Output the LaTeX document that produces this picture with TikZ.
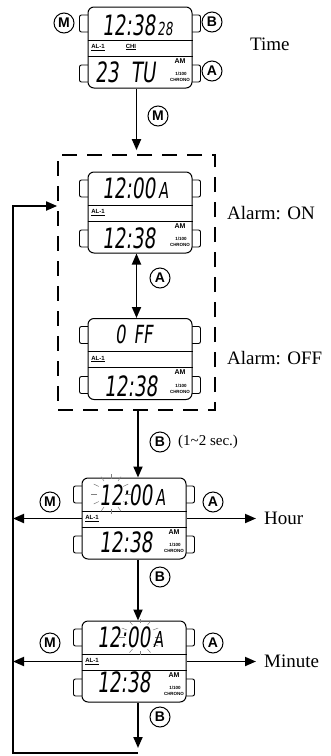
\documentclass[tikz,border=0pt]{standalone}
\usepackage{fontspec}
\setmainfont{Liberation Serif}
\newfontfamily\keyfont{Liberation Sans}
\newfontfamily\lcd{DejaVu Sans}[FakeSlant=0.12,FakeStretch=0.66]
\usetikzlibrary{
  arrows.meta,
  calc,
  positioning,
  backgrounds
}

% frame of one watch: buttons, dividers and the fixed marks
\newcommand{\watchframe}[1]{%
  \begin{scope}[on background layer]
    \draw[button] ($(#1.west)+(-8,-32.5)$) rectangle ($(#1.west)+(4,-15.5)$);
    \draw[button] ($(#1.west)+(-8,17.5)$) rectangle ($(#1.west)+(4,34.5)$);
    \draw[button] ($(#1.east)+(-4,-32.5)$) rectangle ($(#1.east)+(8,-15.5)$);
    \draw[button] ($(#1.east)+(-4,17.5)$) rectangle ($(#1.east)+(8,34.5)$);
  \end{scope}
  \draw[line width=0.8pt] ($(#1.west)+(0,-7.5)$) -- ($(#1.east)+(0,-7.5)$);
  \draw[line width=0.8pt] ($(#1.west)+(0,8.5)$) -- ($(#1.east)+(0,8.5)$);
  \node[tinylab] at ($(#1)+(-42,0)$) {\underline{AL-1}};
  \node[tinylab, font=\keyfont\bfseries\fontsize{7}{7}\selectfont] at ($(#1)+(40,13.5)$) {AM};
  \node[tinylab, font=\keyfont\bfseries\fontsize{4.5}{4.5}\selectfont] at ($(#1)+(41,26.5)$) {1/100};
  \node[tinylab, font=\keyfont\bfseries\fontsize{4.5}{4.5}\selectfont] at ($(#1)+(40,32.5)$) {CHRONO};
}

\begin{document}
\begin{tikzpicture}[x=1pt, y=-1pt,
  watch/.style={draw, fill=white, rounded corners=6pt, minimum width=104pt,
    minimum height=81pt, line width=1pt, inner sep=0pt},
  button/.style={draw, fill=white, rounded corners=2pt, line width=0.9pt},
  flow/.style={line width=1.8pt, -{Triangle[length=11pt,width=9pt]}},
  keylab/.style={circle, draw, line width=1pt, inner sep=0pt, minimum size=20pt,
    font=\keyfont\bfseries\fontsize{14}{14}\selectfont},
  caption/.style={font=\fontsize{19}{22}\selectfont, anchor=west, inner sep=0pt},
  lcdbig/.style={font=\lcd\fontsize{28}{28}\selectfont, anchor=base west, inner sep=0pt},
  tinylab/.style={font=\keyfont\bfseries\fontsize{6}{6}\selectfont, inner sep=0pt},
  ray/.style={gray, line width=0.5pt}]
  \useasboundingbox (0,0) rectangle (331,756);

  % Watches
  \node[watch] (w1) at (140,47.5) {};
  \node[watch] (w2) at (140,212.5) {};
  \node[watch] (w3) at (140,359) {};
  \node[watch] (w4) at (134,518.5) {};
  \node[watch] (w5) at (134,661.5) {};
  \foreach \w in {w1,w2,w3,w4,w5} {\watchframe{\w}}

  % Alarm group
  \node[draw, line width=1.7pt, dash pattern=on 15pt off 10pt, minimum width=157pt,
    minimum height=255pt] (grp) at (136.5,282.5) {};

  % Display: time
  \node[lcdbig] at (102,35) {12:38\hspace{2pt}{\fontsize{18}{18}\selectfont 28}};
  \node[tinylab] at (131,47) {\underline{CHI}};
  \node[lcdbig] at (95,82) {23\hspace{12pt}TU};

  % Display: alarm on / off
  \node[lcdbig] at (102,198) {12:00\hspace{3pt}{\fontsize{22}{22}\selectfont A}};
  \node[lcdbig] at (102,248) {12:38};
  \node[lcdbig, font=\lcd\fontsize{25}{25}\selectfont] at (115,343) {0\hspace{8pt}FF};
  \node[lcdbig] at (104,396) {12:38};

  % Display: hour (flashing)
  \foreach \a in {0,30,...,330}
    \draw[ray] ($(111,494)+(\a:14 and 15)$) -- ($(111,494)+(\a:20 and 20)$);
  \node[lcdbig] at (99,505) {12:00\hspace{3pt}{\fontsize{22}{22}\selectfont A}};
  \node[lcdbig] at (99,552) {12:38};

  % Display: minute (flashing)
  \foreach \a in {0,30,...,330}
    \draw[ray] ($(140,637)+(\a:15 and 14)$) -- ($(140,637)+(\a:21 and 18)$);
  \node[lcdbig] at (97,647) {12:00\hspace{3pt}{\fontsize{22}{22}\selectfont A}};
  \node[lcdbig] at (97,692) {12:38};

  % Keys
  \node[keylab] (m1) at (64,23) {M};
  \node[keylab] (b1) at (212,22) {B};
  \node[keylab] (a1) at (212,71) {A};
  \node[keylab] (m12) at (158,116) {M};
  \node[keylab] (a23) at (160,278) {A};
  \node[keylab] (bsec) at (160,442) {B};
  \node[keylab] (m4) at (50,502) {M};
  \node[keylab] (a4) at (213,502) {A};
  \node[keylab] (b45) at (160,577) {B};
  \node[keylab] (m5) at (50,643) {M};
  \node[keylab] (a5) at (213,643) {A};
  \node[keylab] (b5) at (160,717) {B};

  % Captions
  \node[caption] (tm) at (250,44) {Time};
  \node[caption] (on) at (227,213) {Alarm: ON};
  \node[caption] (off) at (227,358) {Alarm: OFF};
  \node[caption, font=\fontsize{15}{18}\selectfont] (sec) at (178,442) {(1\textasciitilde2 sec.)};
  \coordinate (hr) at (256,518.5);
  \coordinate (mn) at (256,661.5);
  \node[caption] (hour) at (264,518.5) {Hour};
  \node[caption] (minute) at (264,661.5) {Minute};

  % Connectors
  \coordinate (col) at (138,0);
  \coordinate (lft) at (13,206);
  \coordinate (bot) at (138,753);
  \draw[flow, shorten >=4pt] (w1.south -| grp.north) -- (grp.north);
  \draw[flow, {Triangle[length=11pt,width=9pt]}-{Triangle[length=11pt,width=9pt]}]
    (w2.south -| grp.north) -- (w3.north -| grp.north);
  \draw[flow] (grp.south -| col) -- (w4.north -| col);
  \draw[flow] (w4.west) -- (w4.west -| lft);
  \draw[flow] (w4.east) -- (hr);
  \draw[flow] (w4.south -| col) -- (w5.north -| col);
  \draw[flow] (w5.west) -- (w5.west -| lft);
  \draw[flow] (w5.east) -- (mn);
  \draw[flow, shorten >=5pt] (w5.south -| col) -- (bot);
  \draw[flow] (bot) -| (lft) -- (lft -| grp.west);
\end{tikzpicture}
\end{document}
